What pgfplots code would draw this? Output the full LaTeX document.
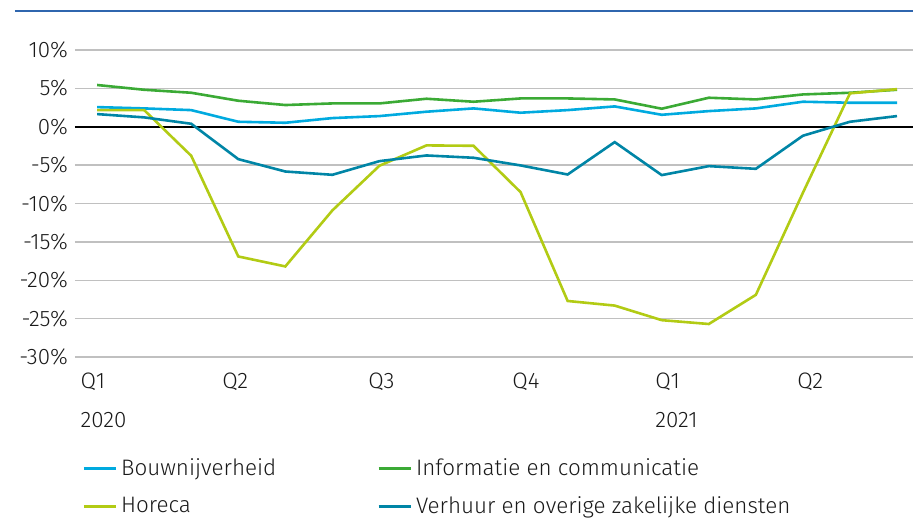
\documentclass[border=0pt]{standalone}
\usepackage{pgfplots}
\pgfplotsset{compat=1.18}
\usepackage{fontspec}
\setmainfont{Fira Sans}[UprightFont=* Light]
\definecolor{cBouw}{HTML}{00AADF}
\definecolor{cInfo}{HTML}{3BAA35}
\definecolor{cHor}{HTML}{B2CB14}
\definecolor{cVer}{HTML}{0085A6}
\definecolor{cRule}{HTML}{2F66AE}
\definecolor{cGrid}{HTML}{C0C0C0}
\begin{document}
\begin{tikzpicture}
\path[use as bounding box] (-37.5pt,-81.5pt) rectangle (419pt,178.5pt);
\begin{axis}[
  scale only axis, width=419pt, height=153.5pt,
  xmin=-0.47, xmax=17.34, ymin=-30, ymax=10,
  axis line style={draw=none},
  ytick={-30,-25,...,10},
  yticklabel={\pgfmathprintnumber{\tick}\%},
  /pgf/number format/assume math mode=true,
  ymajorgrids, grid style={cGrid, line width=0.75pt},
  major tick length=0pt,
  tick style={draw=none},
  xtick={-0.361,2.656,5.759,8.819,11.857,14.875},
  xticklabels={{Q1\\2020},Q2,Q3,Q4,{Q1\\2021},Q2},
  xticklabel style={anchor=north west, align=left, inner sep=0pt, xshift=0pt, yshift=-8pt, font=\fontsize{11.2}{19.5}\selectfont, text=black!90},
  yticklabel style={font=\fontsize{11.2}{12}\selectfont, text=black!90},
  extra y ticks={0}, extra y tick labels={},
  extra y tick style={grid style={black, line width=1pt}},
  clip=false,
  legend columns=2,
  legend cell align=left,
  legend style={at={(0,0)}, anchor=north west, xshift=3.5pt, yshift=-48.5pt, draw=none, fill=none, inner sep=0pt,
    font=\fontsize{11.2}{12}\selectfont, text=black!90, row sep=5pt},
  legend image code/.code={\draw[line width=1.4pt] (0pt,0pt) -- (16pt,0pt);},
  every axis plot/.append style={line width=1.3pt, mark=none},
]
\addplot[cBouw] coordinates {(0,2.56)(1,2.39)(2,2.17)(3,0.65)(4,0.52)(5,1.13)(6,1.39)(7,1.96)(8,2.39)(9,1.83)(10,2.17)(11,2.65)(12,1.56)(13,2.04)(14,2.39)(15,3.26)(16,3.13)(17,3.13)};
\addlegendentry{\makebox[126pt][l]{Bouwnijverheid}}
\addplot[cInfo] coordinates {(0,5.44)(1,4.82)(2,4.43)(3,3.39)(4,2.83)(5,3.04)(6,3.04)(7,3.65)(8,3.26)(9,3.69)(10,3.69)(11,3.56)(12,2.35)(13,3.78)(14,3.56)(15,4.21)(16,4.43)(17,4.82)};
\addlegendentry{Informatie en communicatie}
\addplot[cHor] coordinates {(0,2.17)(1,2.17)(2,-3.78)(3,-16.9)(4,-18.2)(5,-10.9)(6,-5.08)(7,-2.43)(8,-2.48)(9,-8.52)(10,-22.7)(11,-23.3)(12,-25.2)(13,-25.7)(14,-21.9)(15,-8.6)(16,4.35)(17,4.9)};
\addlegendentry{\makebox[126pt][l]{Horeca}}
\addplot[cVer] coordinates {(0,1.65)(1,1.22)(2,0.39)(3,-4.22)(4,-5.83)(5,-6.26)(6,-4.48)(7,-3.74)(8,-4.04)(9,-5.04)(10,-6.22)(11,-2.0)(12,-6.3)(13,-5.13)(14,-5.48)(15,-1.17)(16,0.65)(17,1.39)};
\addlegendentry{Verhuur en overige zakelijke diensten}
\end{axis}
\draw[cRule, line width=0.8pt] (-30pt,173pt) -- (419pt,173pt);
\end{tikzpicture}
\end{document}
